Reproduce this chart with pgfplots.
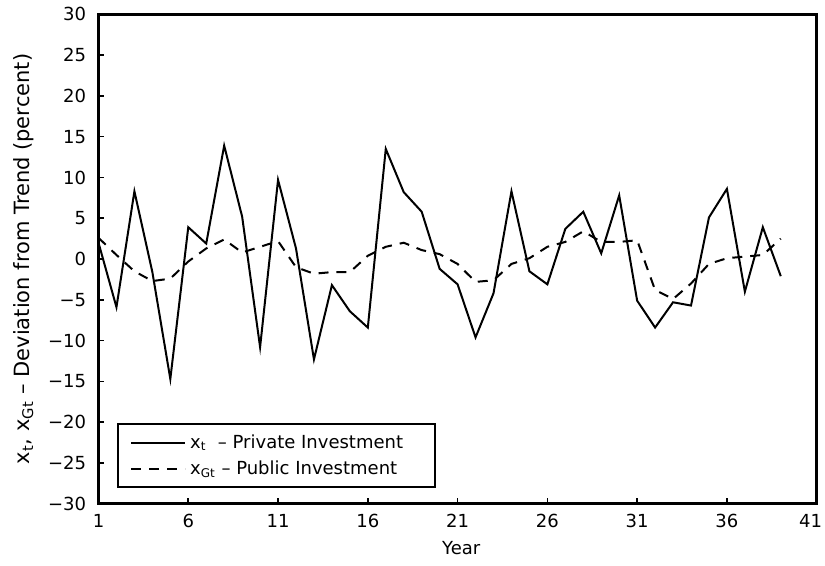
\documentclass[border=0pt]{standalone}
\usepackage{pgfplots}
\pgfplotsset{compat=1.18}
\usepackage{fontspec}
\setmainfont{DejaVu Sans}
\begin{document}
\fontsize{9}{11}\selectfont
\begin{tikzpicture}
\useasboundingbox (-49.25pt,-31.1pt) rectangle (363.25pt,251.9pt);
\begin{axis}[
  at={(0,0)}, anchor=south west,
  scale only axis,
  width=359.1pt, height=244.75pt,
  xmin=1, xmax=41, ymin=-30, ymax=30,
  xtick={1,6,...,41},
  xticklabels={1,6,11,16,21,26,31,36,\hspace*{-6pt}41},
  ytick={-30,-25,...,30},
  yticklabels={−30,−25,−20,−15,−10,−5,0,5,10,15,20,25,30},
  xtick pos=left, ytick pos=left,
  tick align=inside,
  major tick length=3pt,
  axis line style={line width=1.4pt},
  every tick/.style={line width=0.8pt, black},
  /pgf/number format/assume math mode=true,
  xticklabel style={yshift=-2pt},
  yticklabel style={xshift=-3pt},
  xlabel={Year},
  ylabel={x\textsubscript{t}, x\textsubscript{Gt} – Deviation from Trend (percent)},
  xlabel style={at={(axis description cs:0.505,-0.0899)}, anchor=center},
  ylabel style={at={(axis description cs:-0.1037,0.5)}, anchor=center, font=\fontsize{10.5}{12}\selectfont},
  legend style={at={(axis description cs:0.026,0.032)}, anchor=south west,
    draw=black, line width=1pt, font=\fontsize{9}{11}\selectfont,
    row sep=1pt, inner xsep=6pt, inner ysep=3pt},
  legend cell align=left,
  legend image code/.code={\draw[#1] (0pt,0pt) -- (27pt,0pt);},
]
\addplot[black, line width=1pt] coordinates {
(1,2.0) (2,-5.9) (3,8.3) (4,-1.6) (5,-14.7) (6,3.9) (7,1.9) (8,13.9) (9,5.2) (10,-10.8)
(11,9.7) (12,1.3) (13,-12.3) (14,-3.2) (15,-6.4) (16,-8.4) (17,13.5) (18,8.2) (19,5.8) (20,-1.2)
(21,-3.1) (22,-9.6) (23,-4.2) (24,8.3) (25,-1.5) (26,-3.1) (27,3.7) (28,5.8) (29,0.7) (30,7.8)
(31,-5.1) (32,-8.4) (33,-5.3) (34,-5.7) (35,5.1) (36,8.6) (37,-4.0) (38,3.9) (39,-2.1)
};
\addlegendentry{x\textsubscript{t} \ – Private Investment\hspace*{8pt}}
\addplot[black, line width=1pt, dash pattern=on 5pt off 4pt] coordinates {
(1,2.6) (2,0.5) (3,-1.5) (4,-2.7) (5,-2.4) (6,-0.3) (7,1.3) (8,2.4) (9,0.8) (10,1.5)
(11,2.2) (12,-1.0) (13,-1.8) (14,-1.6) (15,-1.6) (16,0.4) (17,1.5) (18,2.0) (19,1.1) (20,0.6)
(21,-0.6) (22,-2.8) (23,-2.6) (24,-0.6) (25,0.1) (26,1.5) (27,2.1) (28,3.4) (29,2.1) (30,2.1)
(31,2.3) (32,-3.8) (33,-4.9) (34,-3.0) (35,-0.6) (36,0.1) (37,0.3) (38,0.5) (39,2.5)
};
\addlegendentry{x\textsubscript{Gt} – Public Investment}
\end{axis}
\end{tikzpicture}
\end{document}
